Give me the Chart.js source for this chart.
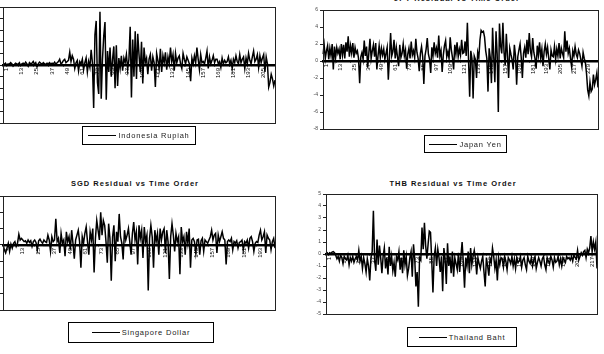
<!DOCTYPE html>
<html>
<head>
<meta charset="utf-8">
<script src="https://cdn.jsdelivr.net/npm/chart.js"></script>
<style>
  html, body { margin: 0; padding: 0; background: #fff; overflow: hidden; }
  body { width: 604px; height: 354px; position: relative; font-family: "Liberation Sans", Arial, sans-serif; }
  canvas { position: absolute; }
  .title { position: absolute; font-weight: bold; font-size: 7.5px; letter-spacing: 1px; color: #111; text-align: center; white-space: nowrap; }
  .legend { position: absolute; border: 1px solid #000; box-sizing: border-box; display: flex; align-items: center; justify-content: center; font-size: 7.5px; letter-spacing: 0.8px; color: #222; white-space: nowrap; }
  .legend span.swatch { display: inline-block; width: 28px; border-top: 1px solid #000; margin-right: 2px; }
</style>
</head>
<body>

<canvas id="idr" width="307" height="126" style="left:-27px; top:2px;"></canvas>
<canvas id="jpy" width="310" height="129" style="left:293px; top:5px;"></canvas>
<canvas id="sgd" width="307" height="124" style="left:-27px; top:191px;"></canvas>
<canvas id="thb" width="306" height="130" style="left:296px; top:189px;"></canvas>

<div class="title" style="left:357px; top:-6px; width:200px;">JPY Residual vs Time Order</div>
<div class="title" style="left:35px; top:179px; width:200px;">SGD Residual vs Time Order</div>
<div class="title" style="left:353px; top:179px; width:200px;">THB Residual vs Time Order</div>

<div class="legend" style="left:82px; top:126px; width:114px; height:19px;"><span class="swatch"></span>Indonesia Rupiah</div>
<div class="legend" style="left:424px; top:135px; width:83px; height:18px;"><span class="swatch"></span>Japan Yen</div>
<div class="legend" style="left:68px; top:322px; width:146px; height:21px;"><span class="swatch"></span>Singapore Dollar</div>
<div class="legend" style="left:407px; top:327px; width:110px; height:20px;"><span class="swatch"></span>Thailand Baht</div>

<script>
// residuals, one value per time step
const idrValues = [
  0.1, 0.05, 0.15, -0.05, 0.1, 0.05, 0.2, 0.1, -0.1, 0.05, 0.15, 0.1, 0.05, 0.2, -0.05, 0.1, 0.15,
  0.05, 0.25, 0.1, -0.1, 0.2, 0.1, 0.15, 0.3, 0.05, 0.2, -0.15, 0.1, 0.25, 0.15, 0.05, 0.2, 0.1,
  0.05, 0.15, 0.1, 0.2, 0.05, 0.15, 0.1, 0.25, 0.05, 0.2,
  0.3, 0.5, 0.1, 0.2, 0.4, 0.5, 0.2, 0.3, 0.4,
  1.1, 0.3, 0.8, 0.5, -0.3, 0.2,
  0.4, -0.5, 0.3, 0.1, 0.5, -0.4, 0.2, 0.6, -0.6, 0.3, -0.2, 1.3, 0.2,
  -3.7, 2.6, 3.8, -1.5, -2.5, 4.6, -2.9, 0.5, 2.5, 3.7, -3.0, 1.2, -0.6,
  1.5, -1.0, 0.5, 1.6, -2.0, 1.7, -1.8, 0.6, -0.3,
  0.8, -0.5, 0.6, 0.2, 0.9, -0.4, 0.5,
  3.3, -2.8, 2.2, -1.0, 2.9, -1.2, 2.7, 0.9, -0.6,
  2.0, -1.6, 1.5, 0.2, 0.6, -0.8, 0.5,
  0.9, -0.5, 0.7, 0.2, -1.9, 1.0, 0.4, -0.3,
  1.4, -0.6, 0.8, 0.2, 1.1, -0.4, 0.7, 0.1,
  1.5, 0.3, 0.9, -0.5, 1.0, 0.2, 0.6, 0.8, 0.1,
  -0.3, 1.0, 0.5, 0.1, 0.7, 0.4, 0.1,
  -1.4, 0.6, 0.1, 0.8, 0.2,
  1.5, 0.5, -0.4, 0.9, 0.2, 0.3, 0.1,
  0.6, 1.2, -0.3, 0.7, 0.1, 0.4, 0.8, 0.2, 0.5,
  0.5, 0.1, 0.3, -0.2, 0.6, 0.1, 0.4, 0.2, 0.3,
  0.7, 0.1, 0.4, -0.3, 0.5, 0.2, 0.8, 0.3, 0.1,
  0.9, 0.2, 0.5, 0.7, -0.3, 0.6, 0.1, 1.0, 0.4, 0.1, 0.7,
  1.2, 0.3, 0.5, 0.9, -0.2, 0.8, 0.2, 0.6,
  0.9, -0.6, 0.7, 0.1, -1.9, -1.5, -0.8, -1.2, -1.8, -1.3
];

const jpyValues = [
  0.8, 1.9, 0.3, 1.2, 1.8, 0.2, 1.5, 0.6, 2.0, -1.0, 1.7, 0.4, 1.6, 0.9, 1.4, 0.2,
  2.0, 0.7, 1.9, 0.3, 2.2, 1.1, 2.9, 0.5, 1.8, 0.9, 2.1, 0.4, 1.6, 0.9, 1.2, 0.3,
  -2.6, 0.5,
  1.0, 0.2, 2.4, 0.6, 1.7, -0.8, 0.9, 2.6, 0.3, 1.2, 1.9, 0.5, 2.1, -1.0, 0.6, 1.8,
  0.4, 1.5, 0.7, 1.4, 0.2, 0.9, 1.6,
  -2.2, 0.4, 3.3, 0.6,
  1.1, 2.5, 0.3, 1.6, 0.5, -0.6, 1.9, 0.4, 0.9, 2.0, 0.6, 1.3, -0.9, 0.8, 1.5, 0.3,
  2.3, 0.7, 1.2, 0.4, 2.6, 1.0, 0.3, -1.2, 0.9, 1.7, 0.5,
  -2.7, 0.6,
  1.4, 2.7, 0.8, 0.2, -1.4, 1.6, 0.6, 2.2, 0.9, 1.5, 0.4, 3.0, 0.6, 1.2, -1.3, 0.7,
  1.8, 2.4, 0.5, 1.1, 0.3, 2.8, 1.3, 0.4, -1.0, 1.9, 0.8, 2.2, 0.5, 1.4, 0.7, 2.5, 0.9,
  1.0, 2.3, 0.6, 4.5, 0.2, -4.2, 1.2, 0.3, -4.4, 0.6, 0.2, -2.0, 1.0, 0.4, 2.5,
  3.6, 3.4, 3.5, 2.8, 1.2, 0.3, -3.6, 1.5, 0.4, -2.6, 3.9, 0.5, -2.5, 3.5, 0.8,
  -6.0, 4.4, 1.8, 0.9, 4.5, 1.0, -0.5, 3.2, 0.6, -2.0, 1.5, 0.8, 0.2, -1.0, 1.9, 0.6, -2.8, 0.5,
  1.3, 2.0, 0.4, -2.0, 0.9, 1.6, 0.4, 2.5, 0.8, 3.3, 1.2, 0.5, 2.7, 1.0, 0.3, -0.9,
  1.8, 0.7, 2.2, 0.4, 1.4, -0.6, 1.1, 2.0, 0.8, 1.6, 0.3, -1.0, 1.3, 0.6,
  0.5, 1.7, 0.2, 1.4, 0.6, 2.1, 0.3, 1.5, 0.9, 0.4,
  3.5, 1.1, 2.4, 0.9, 1.5, 0.3, -0.7, 1.2, 0.6, 1.7, 0.8, 0.4, 1.3, 0.9, 0.2, -0.6, 1.0, 0.3, -0.2,
  -1.5, -3.4, -4.1, -2.5, -3.6, -3.3, -1.6, -2.8, -2.2, -1.4, -3.1
];

const sgdValues = [
  0.05, -0.3, -0.5, -0.2, 0.1, -0.4, 0.05, -0.2, 0.1, 0.2, -0.1, 0.1,
  0.65, 0.3, 0.4, 0.3,
  0.2, 0.25, 0.1, 0.3, 0.15, 0.25, -0.1, 0.2, 0.3, 0.15, -0.3, 0.25, 0.35, 0.2, 0.1, 0.3, 0.2, 0.15,
  0.6, 0.3, -0.4, 0.5, 0.2, 0.3,
  1.6, 0.2,
  0.4, -0.5, 0.7, 0.1, 0.3, -0.7, 0.8, 0.2, 0.5, -0.3, 0.9, 0.1, -0.85, 0.3,
  0.6, 0.9, 0.2, -1.4, 0.5, 0.1,
  0.7, 1.1, 0.2, -0.6, 0.8, 0.3, 1.0,
  -1.7, 0.4,
  1.5, 0.9, 0.3, 2.0, 0.6,
  1.5, 1.2, 0.2, -1.1, 1.3, 0.4, -2.2, 0.5,
  1.2, -1.0, 0.8, 0.2, 1.9, 0.5, 0.1,
  -0.9, 0.9, 0.3, 0.6, 1.0, 0.2, -0.6, 0.7, 1.4, 0.3,
  0.8, -1.2, 1.2, 0.4, 0.9, -0.8, 1.1, 0.2, 0.6,
  -2.8, 0.4,
  1.2, 0.5, -1.4, 0.9, 0.2, 0.7, -0.6, 1.0, 0.3,
  0.8, 1.0, -0.5, 0.9, 0.2,
  -2.1, 0.5,
  1.3, 0.6, -0.4, 0.7, 0.2, 0.5,
  -1.8, 1.1, 0.2,
  0.5, -0.6, 0.8, 0.1, 1.0,
  -1.4, 0.3,
  0.4, 0.2, -0.5, 0.3, 0.35, -0.6, 0.25, 0.4, -0.4, 0.3, 0.2, 0.1, 0.3,
  0.5, 0.9, 0.3, 0.6, 0.7, -0.5, 0.6, 0.2, 0.5, 0.8, 0.4, 0.3,
  -1.2, 0.2,
  0.3, 0.2, 0.4, -0.3, 0.2, 0.1, 0.25, -0.2, 0.15, 0.2, 0.3, -0.3, 0.2, 0.1, 0.3, -0.2,
  0.4, 0.5, 0.2, -0.4, 0.1, 0.2, 0.15,
  0.6, 0.9, 0.3, 0.5, 0.8, -0.5, 0.6, 0.4, 0.3, -0.3, 0.2, 0.4, -0.2
];

const thbValues = [
  0.05, 0.1, -0.05, 0.1, 0.05, 0.15, 0.2, 0.1, -0.1,
  -0.4, -0.2, -0.6, -0.1, -0.3, -0.8, -0.2, -0.4, -0.5, -0.1, -0.9, -0.3, -0.6, -0.2, -0.7, -0.4, -0.2, -0.5,
  0.3, -0.6, -0.2,
  -1.2, -0.3, -0.8, -1.5, -0.4, -1.0, -2.2, -0.3,
  0.2, 3.6, -0.5,
  -1.4, 1.2, -0.9, 0.7, -0.3, -1.6, -0.2,
  0.5, -1.2, -0.3, -1.7, 0.6, -1.0, -0.2, -1.4,
  -0.7, -1.9, -0.2, -0.5, 0.2, -1.3, -0.3,
  -1.6, 0.3, -0.9, -0.2, -1.8, -1.2, -0.3,
  0.2, -1.9, 0.8, -0.4, -2.7, -1.5,
  -4.4, -0.3,
  -0.5, 2.2, 0.4, 2.6, 0.7, -0.4,
  0.8, 1.9, 1.8, -0.5, -3.2, -0.2,
  0.5, -1.0, 0.4, -0.3, -1.5, -0.2,
  -3.1, 0.5, -0.4, -2.5, 0.9, -1.0, -0.2,
  -1.6, 0.2, -1.9, -0.3, -0.8, -1.3, 0.1, -1.5, -0.2,
  1.0, -0.7, -2.8, -0.3,
  -1.0, 0.2, -1.6, 0.5, -0.9, -0.2, 0.3, -0.4,
  -1.7, -0.3, -0.8, -1.2, -0.6, -0.2,
  -1.5, -2.7, -0.3,
  -1.0, -1.8, -0.4, -0.7, 0.5, -0.2,
  -1.2, -0.5, -2.2, -0.3,
  -0.9, -0.3, -0.4, -1.1, -0.2, -0.6, -1.3, -0.3, -0.5, -0.8, -0.2, -1.0, -0.4, -1.2, -0.3,
  -0.7, -0.6, -0.2, -1.1, -0.5, -0.3, -0.9, -1.3, -0.2, -0.6, -0.8, -0.3, -1.0, -0.5, -0.2,
  -1.2, -0.7, -0.3, -0.6, -1.0, -0.4, -0.2, -0.9, -1.3, -0.3, -0.6, -0.8, -0.2, -0.5, -1.1,
  -0.3, -0.7, -0.6, -0.2, -0.9, -0.4, -1.0, -0.3, -0.5, -0.7, -0.2, -0.4,
  -0.3, -0.5, -0.2, -0.6, -0.1, -0.3, -0.4, 0.3, -0.5, -0.2, 0.1, -0.1,
  0.2, 0.3, -0.3, 0.4, 0.1, 0.5, 1.5, 0.2, 1.0, 0.4, 1.0, -1.2
];

// time order categories (1, 2, 3 ...) for each series
const idrOrder = idrValues.map((v, i) => String(i + 1));
const jpyOrder = jpyValues.map((v, i) => String(i + 1));
const sgdOrder = sgdValues.map((v, i) => String(i + 1));
const thbOrder = thbValues.map((v, i) => String(i + 1));

const LABEL_EVERY = 12;

// box around the plot area, like the spreadsheet chart
const framePlugin = {
    id: 'frame',
    afterDraw(chart) {
        const a = chart.chartArea;
        const ctx = chart.ctx;
        ctx.save();
        ctx.strokeStyle = '#222';
        ctx.lineWidth = 1;
        ctx.strokeRect(Math.round(a.left) + 0.5, Math.round(a.top) + 0.5, Math.round(a.width), Math.round(a.height));
        ctx.restore();
    }
};

function residualChart(id, labels, values, yMin, yMax, yStep) {
    return new Chart(document.getElementById(id), {
        type: 'line',
        data: {
            labels: labels,
            datasets: [{
                data: values,
                borderColor: '#000',
                borderWidth: 1.5,
                pointRadius: 0,
                tension: 0,
                fill: false
            }]
        },
        options: {
            responsive: false,
            animation: false,
            layout: { padding: { top: 5, right: 5, bottom: 5, left: 0 } },
            plugins: { legend: { display: false }, tooltip: { enabled: false } },
            scales: {
                x: {
                    type: 'category',
                    position: { y: 0 },
                    z: 1,
                    offset: false,
                    grid: { display: true, drawOnChartArea: false, drawTicks: true, tickLength: 2, color: '#000' },
                    border: { display: true, color: '#000', width: 2.5 },
                    ticks: {
                        autoSkip: false,
                        minRotation: 90,
                        maxRotation: 90,
                        padding: 1,
                        color: '#000',
                        font: { size: 6, family: 'Liberation Sans' },
                        showLabelBackdrop: true,
                        backdropColor: '#fff',
                        backdropPadding: 1,
                        callback: function (value, index) {
                            // keep the last label inside the plot box
                            if (index > labels.length - 5) return null;
                            return index % LABEL_EVERY === 0 ? this.getLabelForValue(value) : null;
                        }
                    }
                },
                y: {
                    min: yMin,
                    max: yMax,
                    afterFit: (scale) => { scale.width = 30; },
                    grid: { display: true, drawOnChartArea: false, drawTicks: true, tickLength: 3, color: '#222' },
                    border: { display: true, color: '#222', width: 1 },
                    ticks: {
                        stepSize: yStep,
                        padding: 2,
                        color: '#444',
                        font: { size: 5, family: 'Liberation Sans' }
                    }
                }
            }
        },
        plugins: [framePlugin]
    });
}

residualChart('idr', idrOrder, idrValues, -5, 5, 1);
residualChart('jpy', jpyOrder, jpyValues, -8, 6, 2);
residualChart('sgd', sgdOrder, sgdValues, -4, 3, 1);
residualChart('thb', thbOrder, thbValues, -5, 5, 1);
</script>
</body>
</html>
